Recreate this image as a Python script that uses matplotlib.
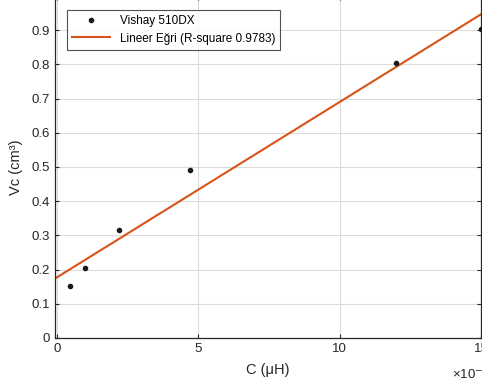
import matplotlib
matplotlib.use("Agg")
import matplotlib.pyplot as plt
import numpy as np

plt.rcParams['font.family'] = ['Liberation Sans', 'DejaVu Sans']

# olculen degerler (C x1e-4)
C = [0.47, 1.0, 2.2, 4.7, 12.0, 15.0]
Vc = [0.152, 0.205, 0.315, 0.49, 0.803, 0.903]

# lineer egri katsayilari
fit_b = 0.177
fit_a = 0.0513
fit_x = [-0.1, 15.2]

fig = plt.figure(figsize=(4.82, 3.89), dpi=100)
ax = fig.add_axes([54.5/482, 51/389, (481-54.5)/482, 342/389])

ax.plot(C, Vc, '.', color='#1a1a1a', markersize=6, label='Vishay 510DX', zorder=3)
fx = np.array(fit_x)
ax.plot(fx, fit_b + fit_a*fx, '-', color='#D95319', linewidth=1.5,
        label='Lineer Eğri (R-square 0.9783)', zorder=2)

ax.set_xlim(-0.08, 15)
ax.set_ylim(0, 1.0)
ax.set_xticks([0, 5, 10, 15])
ax.set_yticks(np.arange(0, 1.0, 0.1))
ax.set_yticklabels(['0', '0.1', '0.2', '0.3', '0.4', '0.5', '0.6', '0.7', '0.8', '0.9'])
ax.grid(True, color='#dcdcdc', linewidth=0.8)
ax.set_axisbelow(True)
ax.tick_params(direction='in', length=3, labelsize=9.5, colors='#262626',
               top=True, right=True, width=0.8)
for s in ax.spines.values():
    s.set_color('#262626')
    s.set_linewidth(0.9)

ax.set_xlabel('C (μH)', fontsize=10.5, color='#262626', labelpad=6)
ax.set_ylabel('Vc (cm³)', fontsize=10.5, color='#262626', labelpad=6)

fig.text(452/482, (389-374)/389, '×10$^{-4}$', fontsize=9.5, color='#262626',
         ha='left', va='center')

leg = ax.legend(loc='upper left', bbox_to_anchor=(12.5/426.5, 1-14/342),
                fontsize=8.5, frameon=True, fancybox=False, borderpad=0.45,
                handlelength=3.2, labelspacing=0.45, borderaxespad=0)
leg.get_frame().set_edgecolor('#262626')
leg.get_frame().set_linewidth(0.8)

fig.savefig('out.png', dpi=100)
